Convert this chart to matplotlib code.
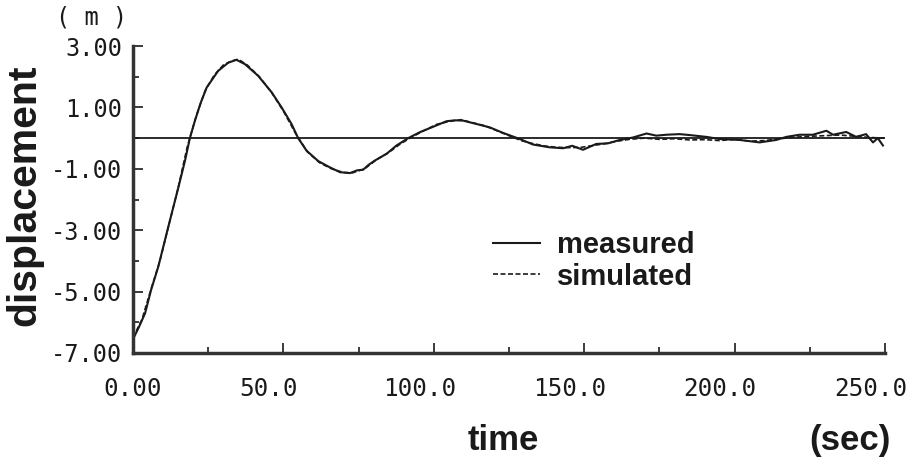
import numpy as np
import matplotlib
matplotlib.use("Agg")
import matplotlib.pyplot as plt
from matplotlib.ticker import MultipleLocator
from matplotlib.transforms import ScaledTranslation

# time (sec) and displacement (m)
t_meas = [0, 2, 4, 6, 8.4, 11.7, 15.1, 17.3, 18.9, 20.6, 22.5, 24.5, 28.3, 31.7,
          34.4, 37.2, 41.6, 46.1, 49.4, 52.7, 54.9, 57.7, 61.6, 65.4, 68.8, 72.1,
          74.5, 76.5, 78.2, 80.4, 84.3, 87.6, 91.5, 95.3, 99.8, 104.2, 107, 109.7,
          114.2, 118.6, 123.0, 128.6, 133, 138.5, 143, 146, 149.6, 154, 157.9,
          161.8, 166.2, 170.7, 174, 177.3, 181.7, 185, 190.6, 195, 201.7, 208.3,
          213.8, 217.2, 221.6, 226, 230.5, 232.7, 237.1, 240.4, 243.7, 246, 247.6,
          249.3]
y_meas = [-6.55, -6.15, -5.71, -4.95, -4.19, -2.90, -1.60, -0.73, 0.0, 0.57, 1.15,
          1.65, 2.19, 2.46, 2.55, 2.41, 2.03, 1.49, 1.00, 0.46, 0.0, -0.41, -0.75,
          -0.95, -1.11, -1.14, -1.05, -1.03, -0.88, -0.73, -0.51, -0.24, 0.0, 0.19,
          0.37, 0.55, 0.58, 0.57, 0.46, 0.35, 0.17, -0.03, -0.21, -0.30, -0.33,
          -0.25, -0.38, -0.19, -0.17, -0.06, 0.02, 0.15, 0.08, 0.11, 0.13, 0.10,
          0.04, -0.03, -0.06, -0.14, -0.06, 0.04, 0.11, 0.11, 0.24, 0.11, 0.20,
          0.04, 0.13, -0.14, 0.00, -0.24]

t_sim = [0, 3, 6, 9, 12, 15, 18, 21, 24, 27, 30, 33, 35, 38, 42, 46, 50, 54, 58,
         62, 66, 70, 73, 77, 81, 85, 89, 93, 97, 101, 105, 109, 113, 117, 121, 125,
         129, 133, 137, 141, 145, 149, 153, 157, 161, 165, 170, 175, 180, 185, 190,
         195, 200, 205, 210, 215, 220, 225, 230, 235, 240, 245, 250]
y_sim = [-6.50, -5.90, -4.92, -3.98, -2.80, -1.62, -0.30, 0.72, 1.55, 2.05, 2.38,
         2.52, 2.57, 2.38, 2.00, 1.50, 0.88, 0.16, -0.45, -0.80, -1.00, -1.12,
         -1.13, -1.00, -0.70, -0.47, -0.18, 0.05, 0.26, 0.45, 0.54, 0.60, 0.50,
         0.40, 0.24, 0.08, -0.08, -0.18, -0.26, -0.30, -0.31, -0.30, -0.24, -0.18,
         -0.10, -0.04, 0.00, -0.04, -0.02, -0.06, -0.05, -0.08, -0.04, -0.10, -0.08,
         -0.02, 0.03, 0.06, 0.08, 0.10, 0.06, 0.02, 0.00]

xticks = [0, 50, 100, 150, 200, 250]
xtick_labels = ["0.00", "50.0", "100.0", "150.0", "200.0", "250.0"]
yticks = [3, 1, -1, -3, -5, -7]
ytick_labels = ["3.00", "1.00", "-1.00", "-3.00", "-5.00", "-7.00"]

ink = "#1a1a1a"
mono = "DejaVu Sans Mono"
bold = {"family": "Liberation Sans", "weight": "bold"}

fig = plt.figure(figsize=(9.11, 4.63), dpi=100)
ax = fig.add_axes([0.146, 0.2376, 0.8255, 0.663])

ax.plot(t_meas, y_meas, color=ink, lw=1.5, label="measured")
ax.plot(t_sim, y_sim, color=ink, lw=1.2, ls=(0, (3, 1.5)), label="simulated")
ax.axhline(0, color=ink, lw=1.3)

ax.set_xlim(0, 250)
ax.set_ylim(-7, 3)
ax.spines["top"].set_visible(False)
ax.spines["right"].set_visible(False)
for s in ["left", "bottom"]:
    ax.spines[s].set_linewidth(2.5)
    ax.spines[s].set_color("#333333")

ax.set_xticks(xticks)
ax.set_xticklabels(xtick_labels, family=mono, fontsize=17.5, color=ink)
ax.set_yticks(yticks)
ax.set_yticklabels(ytick_labels, family=mono, fontsize=17, color=ink)
ax.xaxis.set_minor_locator(MultipleLocator(25))
ax.yaxis.set_minor_locator(MultipleLocator(1))
ax.tick_params(which="both", direction="in", color=ink, width=1.2)
ax.tick_params(which="major", length=7)
ax.tick_params(which="minor", length=4)
ax.tick_params(axis="x", pad=17)
ax.tick_params(axis="y", pad=8)

# the printed labels sit a little left of their ticks
shifts = [0, -15, -14, -15, -15, -14]
for lab, dx in zip(ax.get_xticklabels(), shifts):
    lab.set_transform(lab.get_transform() + ScaledTranslation(dx / 100, 0, fig.dpi_scale_trans))

ax.legend(loc="center left", bbox_to_anchor=(0.479, 0.300), frameon=False,
          borderpad=0, borderaxespad=0, handlelength=1.6, handletextpad=0.6,
          labelspacing=0.12, prop=dict(bold, size=21), labelcolor=ink)

fig.text(0.027, 0.578, "displacement", rotation=90, ha="center", va="center",
         fontsize=29.5, color=ink, **bold)
fig.text(0.552, 0.048, "time", ha="center", va="center", fontsize=25,
         color=ink, **bold)
fig.text(0.933, 0.048, "(sec)", ha="center", va="center", fontsize=25,
         color=ink, **bold)
fig.text(0.101, 0.962, "( m )", ha="center", va="center", family=mono,
         fontsize=17, color=ink)

fig.savefig("out.png", dpi=100)
